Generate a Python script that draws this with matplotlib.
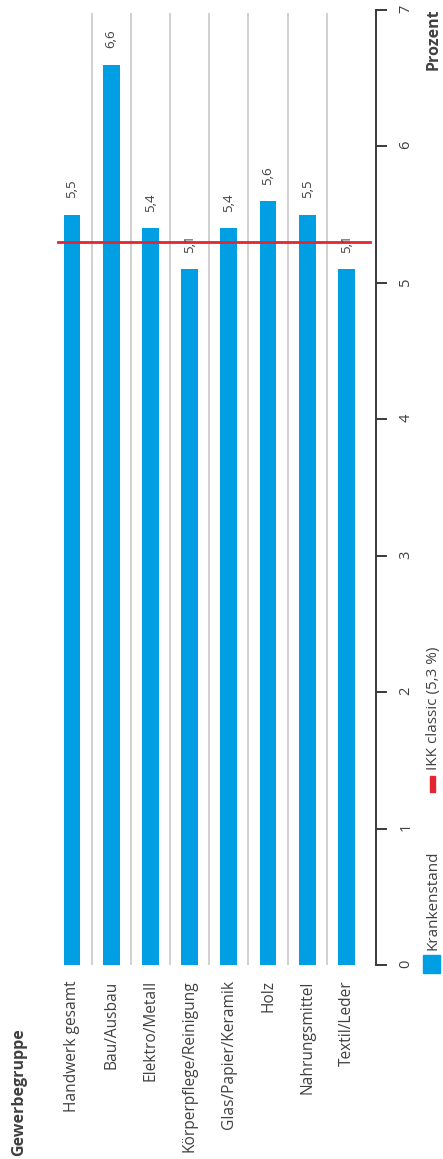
import matplotlib
matplotlib.use("Agg")
import matplotlib.pyplot as plt
from matplotlib.patches import Rectangle

plt.rcParams["font.family"] = ["Open Sans", "DejaVu Sans"]

# data
gruppen = ["Handwerk gesamt", "Bau/Ausbau", "Elektro/Metall",
           "Körperpflege/Reinigung", "Glas/Papier/Keramik", "Holz",
           "Nahrungsmittel", "Textil/Leder"]
krankenstand = [5.5, 6.6, 5.4, 5.1, 5.4, 5.6, 5.5, 5.1]
ikk_classic = 5.3
ticks = [0, 1, 2, 3, 4, 5, 6, 7]

BLUE = "#009fe3"
RED = "#e3262f"
GREY_TXT = "#404040"

W, H = 443, 1159
fig = plt.figure(figsize=(W / 100, H / 100), dpi=100)


def px(x0, y0, x1, y1):
    # pixel box (from top-left) -> figure fraction [l, b, w, h]
    return [x0 / W, 1 - y1 / H, (x1 - x0) / W, (y1 - y0) / H]


# the chart is drawn turned by 90 degrees: value axis runs vertically
step = 39.2
x_first = 72
left_px, right_px = 50, 376
ax = fig.add_axes(px(left_px, 10, right_px, 965))
xmin = (left_px - x_first) / step
xmax = (right_px - x_first) / step
ax.set_xlim(xmin, xmax)
ax.set_ylim(0, 7)

pos = list(range(len(gruppen)))
ax.bar(pos, krankenstand, width=0.43, color=BLUE, zorder=2)

# thin separators between groups
for i in range(len(gruppen) - 1):
    ax.plot([i + 0.5, i + 0.5], [0, 6.97], color="#d0d0d0", lw=1.4, zorder=1)

# IKK classic reference line
ax.plot([(58 - x_first) / step, (370 - x_first) / step], [ikk_classic, ikk_classic],
        color=RED, lw=2.0, zorder=3)

# value labels
for p, v in zip(pos, krankenstand):
    ax.text(p, v + 0.12, f"{v:.1f}".replace(".", ","), rotation=90,
            ha="center", va="bottom", fontsize=9.5, color=GREY_TXT)

for s in ["top", "left", "bottom"]:
    ax.spines[s].set_visible(False)
ax.spines["right"].set_color("#3a3a3a")
ax.spines["right"].set_linewidth(1.4)
ax.yaxis.tick_right()
ax.set_yticks(ticks)
ax.set_yticklabels([str(t) for t in ticks])
ax.tick_params(axis="y", direction="out", length=8, width=1.4, color="#3a3a3a",
               pad=8, labelsize=10.5, labelcolor=GREY_TXT, labelrotation=90)

ax.set_xticks(pos)
ax.set_xticklabels(gruppen, rotation=90, fontsize=11.2, color=GREY_TXT)
ax.tick_params(axis="x", length=0, pad=11)

fig.text(19 / W, 1 - 1028 / H, "Gewerbegruppe", rotation=90, ha="center",
         va="top", fontsize=11.5, fontweight="bold", color=GREY_TXT)
fig.text(434 / W, 1 - 8 / H, "Prozent", rotation=90, ha="center",
         va="top", fontsize=11.5, fontweight="bold", color=GREY_TXT)

# legend, turned with the chart
fig.patches.append(Rectangle((423 / W, 1 - 973 / H), 17 / W, 18 / H,
                             transform=fig.transFigure, color=BLUE))
fig.text(433 / W, 1 - 950 / H, "Krankenstand", rotation=90, ha="center",
         va="bottom", fontsize=11, color=GREY_TXT)
fig.patches.append(Rectangle((430 / W, 1 - 792 / H), 5 / W, 16 / H,
                             transform=fig.transFigure, color=RED))
fig.text(433 / W, 1 - 770 / H, "IKK classic (5,3 %)", rotation=90, ha="center",
         va="bottom", fontsize=11, color=GREY_TXT)

fig.savefig("out.png", dpi=100)
